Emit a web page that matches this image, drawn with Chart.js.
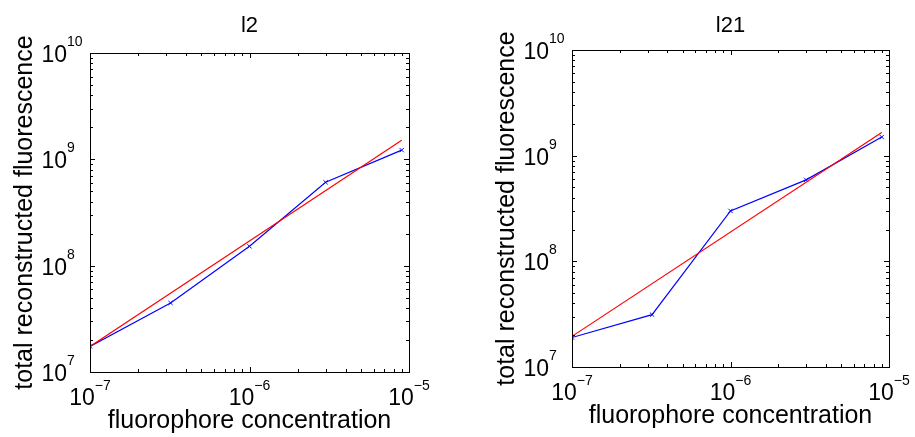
<!DOCTYPE html>
<html>
<head>
<meta charset="utf-8">
<script src="https://cdn.jsdelivr.net/npm/chart.js@4.4.1/dist/chart.umd.min.js"></script>
<style>
html, body { margin: 0; padding: 0; background: #fff; }
#wrap { position: relative; width: 915px; height: 437px; overflow: hidden; }
canvas { position: absolute; top: 0; }
#leftChart { left: 0; }
#rightChart { left: 458px; }
</style>
</head>
<body>
<div id="wrap">
  <canvas id="leftChart" width="457" height="437"></canvas>
  <canvas id="rightChart" width="457" height="437"></canvas>
</div>
<script>
// measured points (x = fluorophore concentration)
var concentration = [1e-7, 3.2e-7, 1e-6, 3e-6, 9e-6];
var l2Fluor = [1.74e7, 4.46e7, 1.52e8, 6.08e8, 1.22e9];
var l21Fluor = [1.9e7, 3.13e7, 3.0e8, 5.9e8, 1.5e9];

// fitted line, just its two end points
var fitConc = [1e-7, 9e-6];
var l2Fit = [1.74e7, 1.51e9];
var l21Fit = [1.95e7, 1.66e9];

// decade tick labels (exponents)
var xDecades = [-7, -6, -5];
var yDecades = [7, 8, 9, 10];

var fontFam = '"Liberation Sans", Arial, Helvetica, sans-serif';

function toPoints(xs, ys) {
  return xs.map(function(x, i) { return { x: x, y: ys[i] }; });
}

// log ticks 1..9 x 10^k between two decades
function logTicks(lo, hi) {
  var out = [];
  for (var k = lo; k < hi; k++) {
    for (var m = 1; m < 10; m++) out.push({ v: m * Math.pow(10, k), major: m === 1 });
  }
  out.push({ v: Math.pow(10, hi), major: true });
  return out;
}

function expText(d) {
  return d < 0 ? '\u2212' + Math.abs(d) : String(d);
}

// matlab-like box with inward ticks, superscript labels and titles
var matlabAxes = {
  id: 'matlabAxes',
  afterDraw: function(chart, args, opts) {
    var ctx = chart.ctx;
    var ca = chart.chartArea;
    var xs = chart.scales.x, ys = chart.scales.y;
    ctx.save();
    ctx.strokeStyle = '#000';
    ctx.lineWidth = 1;
    ctx.strokeRect(Math.round(ca.left) + 0.5, Math.round(ca.top) + 0.5,
      Math.round(ca.right - ca.left), Math.round(ca.bottom - ca.top));

    ctx.beginPath();
    logTicks(xDecades[0], xDecades[xDecades.length - 1]).forEach(function(t) {
      var px = Math.round(xs.getPixelForValue(t.v)) + 0.5;
      var len = t.major ? 5 : 3;
      ctx.moveTo(px, ca.bottom); ctx.lineTo(px, ca.bottom - len);
      ctx.moveTo(px, ca.top); ctx.lineTo(px, ca.top + len);
    });
    logTicks(yDecades[0], yDecades[yDecades.length - 1]).forEach(function(t) {
      var py = Math.round(ys.getPixelForValue(t.v)) + 0.5;
      var len = t.major ? 5 : 3;
      ctx.moveTo(ca.left, py); ctx.lineTo(ca.left + len, py);
      ctx.moveTo(ca.right, py); ctx.lineTo(ca.right - len, py);
    });
    ctx.stroke();

    ctx.fillStyle = '#000';
    ctx.textBaseline = 'alphabetic';
    var baseFont = '23px ' + fontFam;
    var supFont = '14px ' + fontFam;

    // x tick labels
    xDecades.forEach(function(d) {
      var px = xs.getPixelForValue(Math.pow(10, d));
      ctx.font = baseFont;
      var wb = ctx.measureText('10').width;
      ctx.font = supFont;
      var we = ctx.measureText(expText(d)).width;
      var x0 = px - (wb + we) / 2;
      ctx.textAlign = 'left';
      ctx.font = baseFont;
      ctx.fillText('10', x0, ca.bottom + 33);
      ctx.font = supFont;
      ctx.fillText(expText(d), x0 + wb, ca.bottom + 18);
    });

    // y tick labels
    yDecades.forEach(function(d) {
      var py = ys.getPixelForValue(Math.pow(10, d));
      ctx.textAlign = 'right';
      ctx.font = baseFont;
      ctx.fillText('10', ca.left - 23, py + 9);
      ctx.textAlign = 'left';
      ctx.font = supFont;
      ctx.fillText(expText(d), ca.left - 23, py - 7);
    });

    var cx = (ca.left + ca.right) / 2;
    var cy = (ca.top + ca.bottom) / 2;

    ctx.textAlign = 'center';
    ctx.font = '22px ' + fontFam;
    ctx.fillText(opts.title, cx, 32);

    ctx.font = '25px ' + fontFam;
    ctx.fillText('fluorophore concentration', cx, ca.bottom + 56);

    ctx.translate(ca.left - 58, cy);
    ctx.rotate(-Math.PI / 2);
    ctx.fillText('total reconstructed fluorescence', 0, 0);
    ctx.restore();
  }
};

function makeChart(id, title, fluor, fit, pad) {
  return new Chart(document.getElementById(id), {
    type: 'scatter',
    data: {
      datasets: [
        {
          label: 'fit',
          data: toPoints(fitConc, fit),
          showLine: true,
          borderColor: '#ff0000',
          borderWidth: 1.2,
          pointRadius: 0
        },
        {
          label: title,
          data: toPoints(concentration, fluor),
          showLine: true,
          borderColor: '#0000ff',
          borderWidth: 1.2,
          pointStyle: 'crossRot',
          pointRadius: 3,
          pointBorderColor: '#0000ff',
          pointBorderWidth: 1
        }
      ]
    },
    options: {
      responsive: false,
      animation: false,
      devicePixelRatio: 1,
      layout: { padding: pad },
      scales: {
        x: { type: 'logarithmic', min: 1e-7, max: 1e-5, display: false },
        y: { type: 'logarithmic', min: 1e7, max: 1e10, display: false }
      },
      plugins: {
        legend: { display: false },
        tooltip: { enabled: false },
        matlabAxes: { title: title }
      }
    },
    plugins: [matlabAxes]
  });
}

makeChart('leftChart', 'l2', l2Fluor, l2Fit, { left: 90, right: 48, top: 53, bottom: 65 });
makeChart('rightChart', 'l21', l21Fluor, l21Fit, { left: 114, right: 26, top: 50, bottom: 70 });
</script>
</body>
</html>
